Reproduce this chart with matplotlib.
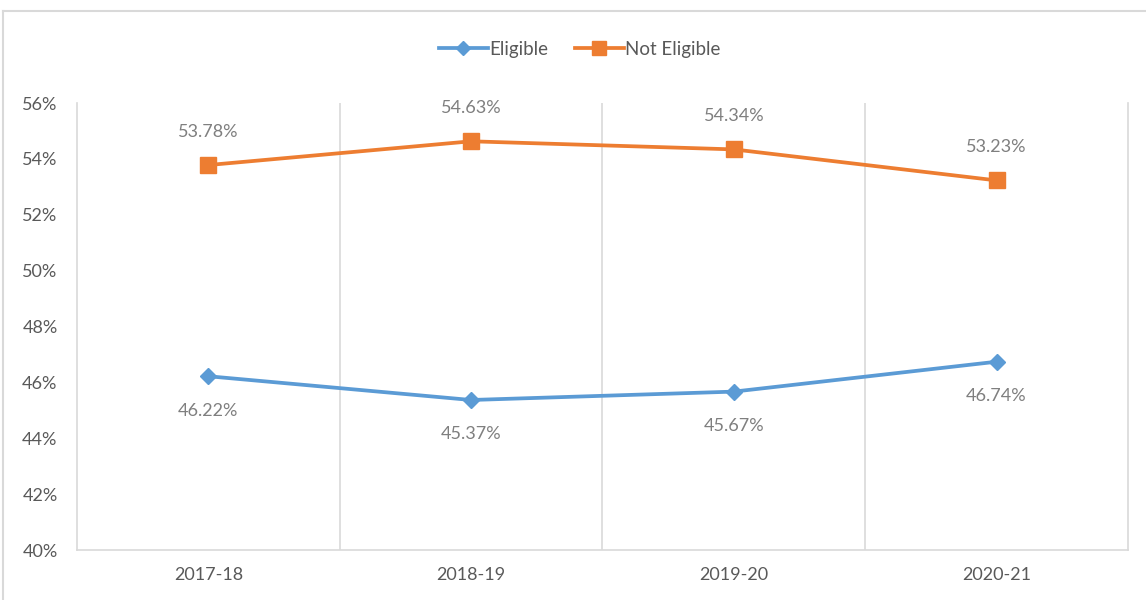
import matplotlib.pyplot as plt
from matplotlib.lines import Line2D

# values
years = ["2017-18", "2018-19", "2019-20", "2020-21"]
eligible = [46.22, 45.37, 45.67, 46.74]
not_eligible = [53.78, 54.63, 54.34, 53.23]
y_ticks = [40, 42, 44, 46, 48, 50, 52, 54, 56]

blue = "#5B9BD5"
orange = "#ED7D31"
text_gray = "#595959"
label_gray = "#7F7F7F"
grid_gray = "#D9D9D9"

plt.rcParams['font.family'] = ['Lato', 'DejaVu Sans']

fig = plt.figure(figsize=(11.46, 6), dpi=100)
ax = fig.add_axes([0.0672, 0.0833, 0.917, 0.745])

x = list(range(len(years)))
ax.plot(x, eligible, color=blue, lw=2.7, marker='D', ms=8,
        markeredgecolor=blue, label="Eligible", zorder=3)
ax.plot(x, not_eligible, color=orange, lw=2.7, marker='s', ms=11,
        markeredgecolor=orange, label="Not Eligible", zorder=3)

# data labels: orange above, blue below
for xi, v in zip(x, not_eligible):
    ax.annotate(f"{v:.2f}%", (xi, v), xytext=(0, 18), textcoords='offset points',
                ha='center', va='bottom', color=label_gray, fontsize=13)
for xi, v in zip(x, eligible):
    ax.annotate(f"{v:.2f}%", (xi, v), xytext=(0, -19), textcoords='offset points',
                ha='center', va='top', color=label_gray, fontsize=13)

ax.set_xlim(-0.5, len(years) - 0.5)
ax.set_ylim(40, 56)
ax.set_yticks(y_ticks)
ax.set_yticklabels([f"{t}%" for t in y_ticks])
ax.set_xticks(x)
ax.set_xticklabels(years)

# vertical separators between categories
for b in [0.5, 1.5, 2.5]:
    ax.axvline(b, color=grid_gray, lw=1.2, zorder=1)

for side in ['left', 'right', 'bottom']:
    ax.spines[side].set_color(grid_gray)
    ax.spines[side].set_linewidth(1.2)
ax.spines['top'].set_visible(False)
ax.tick_params(axis='both', length=0, colors=text_gray, labelsize=13)
ax.tick_params(axis='x', pad=12)
ax.tick_params(axis='y', pad=14)

handles = [
    Line2D([], [], color=blue, lw=2.7, marker='D', ms=7),
    Line2D([], [], color=orange, lw=2.7, marker='s', ms=10),
]
fig.legend(handles, ["Eligible", "Not Eligible"], loc='center',
           bbox_to_anchor=(0.506, 0.918), ncol=2, frameon=False,
           fontsize=13.5, labelcolor=text_gray, handlelength=2.6,
           handletextpad=0.1, columnspacing=1.4)

# outer chart border (only top and left are visible in the crop)
fig.add_artist(Line2D([0.003, 1.0], [0.982, 0.982], transform=fig.transFigure,
                      color=grid_gray, lw=1.5))
fig.add_artist(Line2D([0.003, 0.003], [0.0, 0.982], transform=fig.transFigure,
                      color=grid_gray, lw=1.5))

fig.savefig("out.png", dpi=100)
